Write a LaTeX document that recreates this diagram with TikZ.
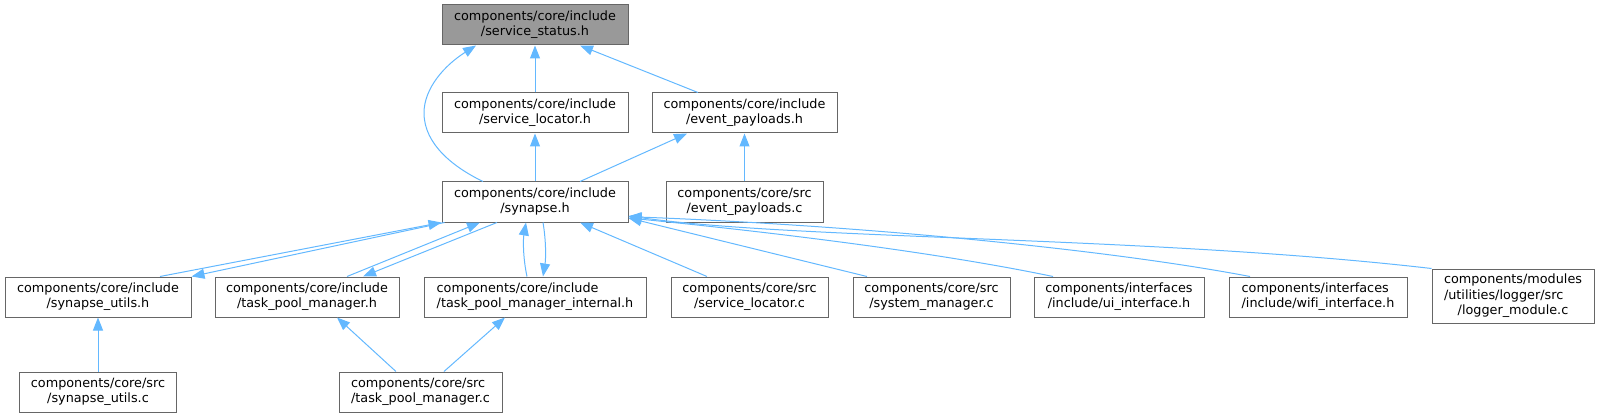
\documentclass[tikz,border=0pt]{standalone}
\usepackage{fontspec}
\setmainfont[Ligatures=NoCommon]{DejaVu Sans}
\usetikzlibrary{arrows.meta}

\definecolor{edgeblue}{HTML}{63B8FF}
\definecolor{boxgray}{HTML}{666666}
\definecolor{rootgray}{HTML}{999999}

% two or three line labels: last line centred, others left
\newcommand{\flab}[2]{\begin{tabular}{@{}l@{}}#1\\\multicolumn{1}{@{}c@{}}{#2}\end{tabular}}
\newcommand{\flabiii}[3]{\begin{tabular}{@{}l@{}}#1\\#2\\\multicolumn{1}{@{}c@{}}{#3}\end{tabular}}

\tikzset{
	file/.style={draw=boxgray, fill=white, line width=0.75pt, inner sep=0pt,
		minimum width=#1, minimum height=30pt, font=\fontsize{9.6}{11.4}\selectfont},
	root/.style={file=#1, fill=rootgray},
	dep/.style={draw=edgeblue, line width=0.75pt, -{Triangle[length=9.75pt, width=7.5pt]}}
}

\begin{document}
\begin{tikzpicture}[x=0.75pt, y=-0.75pt]
		\useasboundingbox (0,0) rectangle (1599,417);
		
		% Headers
		\node[root=139.5pt] (status) at (535,25) {\flab{components/core/include}{/service\_status.h}};
		\node[file=139.5pt] (locatorh) at (535,113) {\flab{components/core/include}{/service\_locator.h}};
		\node[file=138.75pt] (evph) at (744.5,113) {\flab{components/core/include}{/event\_payloads.h}};
		\node[file=139.5pt] (synapse) at (535,202) {\flab{components/core/include}{/synapse.h}};
		\node[file=117.75pt] (evpc) at (744.5,202) {\flab{components/core/src}{/event\_payloads.c}};
		
		% Files including synapse.h
		\node[file=139.5pt] (utilsh) at (98,297) {\flab{components/core/include}{/synapse\_utils.h}};
		\node[file=138pt] (tpmh) at (307,297) {\flab{components/core/include}{/task\_pool\_manager.h}};
		\node[file=166.5pt] (tpmi) at (535,297) {\flab{components/core/include}{/task\_pool\_manager\_internal.h}};
		\node[file=117.75pt] (locc) at (749.5,297) {\flab{components/core/src}{/service\_locator.c}};
		\node[file=117.75pt] (sysc) at (931.5,297) {\flab{components/core/src}{/system\_manager.c}};
		\node[file=127.5pt] (uih) at (1119,297) {\flab{components/interfaces}{/include/ui\_interface.h}};
		\node[file=133.5pt] (wifih) at (1318,297) {\flab{components/interfaces}{/include/wifi\_interface.h}};
		\node[file=121.5pt, minimum height=40.5pt] (logc) at (1513,296) {\flabiii{components/modules}{/utilities/logger/src}{/logger\_module.c}};
		
		% Bottom row
		\node[file=117.75pt] (utilsc) at (98,392) {\flab{components/core/src}{/synapse\_utils.c}};
		\node[file=122.25pt] (tpmc) at (420.5,392) {\flab{components/core/src}{/task\_pool\_manager.c}};
		
		% Into service_status.h
		\draw[dep] ([xshift=-39pt]synapse.north) .. controls (455,168) and (424,145) .. (424,113)
			.. controls (424,88) and (445,65) .. ([xshift=-44.25pt]status.south);
		\draw[dep] (locatorh) -- (status);
		\draw[dep] ([xshift=-34.9pt]evph.north) -- ([xshift=33.75pt]status.south);
		
		% Into service_locator.h and event_payloads.h
		\draw[dep] (synapse) -- (locatorh);
		\draw[dep] ([xshift=33.75pt]synapse.north) -- ([xshift=-43.1pt]evph.south);
		\draw[dep] (evpc) -- (evph);
		
		% Around synapse.h
		\draw[dep] ([xshift=46.5pt]utilsh.north) -- (synapse.south west);
		\draw[dep] ([xshift=2.25pt]synapse.south west) -- (utilsh.north east);
		\draw[dep] ([xshift=30pt]tpmh.north) -- ([xshift=-41.25pt]synapse.south);
		\draw[dep] ([xshift=-28.5pt]synapse.south) -- ([xshift=42pt]tpmh.north);
		\draw[dep] ([xshift=-6pt]tpmi.north) .. controls (523,258) and (523,240) .. ([xshift=-6.75pt]synapse.south);
		\draw[dep] ([xshift=6pt]synapse.south) .. controls (546,240) and (546,258) .. ([xshift=6pt]tpmi.north);
		\draw[dep] ([xshift=-31.9pt]locc.north) -- ([xshift=33.75pt]synapse.south);
		\draw[dep] ([xshift=-48.4pt]sysc.north) -- ([yshift=-12pt]synapse.east);
		\draw[dep] ([xshift=-49.5pt]uih.north) .. controls (950,255) and (800,235) .. ([yshift=-12pt]synapse.east);
		\draw[dep] ([xshift=-51pt]wifih.north) .. controls (1100,248) and (850,225) .. ([yshift=-11pt]synapse.east);
		\draw[dep] (logc.north west) .. controls (1150,236) and (800,240) .. ([yshift=-10.5pt]synapse.east);
		
		% Bottom row
		\draw[dep] (utilsc) -- (utilsh);
		\draw[dep] ([xshift=-18.4pt]tpmc.north) -- ([xshift=22.5pt]tpmh.south);
		\draw[dep] ([xshift=17.6pt]tpmc.north) -- ([xshift=-22.5pt]tpmi.south);
		
	\end{tikzpicture}
\end{document}
